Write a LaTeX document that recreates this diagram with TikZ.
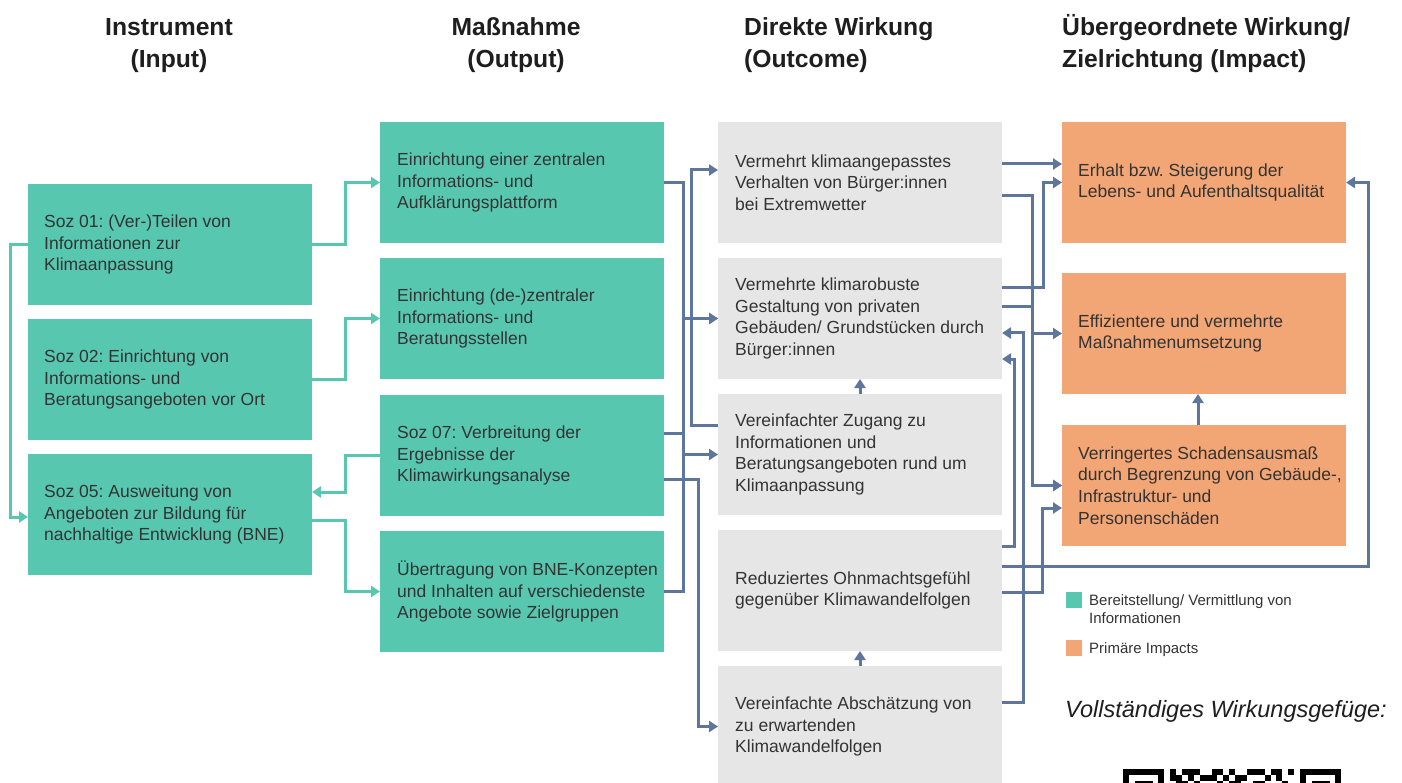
\documentclass[tikz,border=0pt]{standalone}
\usepackage{fontspec}
\setmainfont{Liberation Sans}
\usetikzlibrary{arrows.meta}
\definecolor{teal1}{RGB}{88,199,176}
\definecolor{orange1}{RGB}{242,166,117}
\definecolor{gray1}{RGB}{230,230,230}
\definecolor{blue1}{RGB}{94,118,155}
\definecolor{txt}{RGB}{51,51,51}
\definecolor{head}{RGB}{30,30,30}
\frenchspacing
\begin{document}
\frenchspacing
\begin{tikzpicture}[x=1pt,y=-1pt,
 box/.style={anchor=north west, minimum width=284pt, minimum height=121pt, inner sep=0pt, outer sep=0pt, draw=none},
 tbox/.style={box, fill=teal1}, obox/.style={box, fill=orange1}, gbox/.style={box, fill=gray1},
 btext/.style={anchor=west, align=left, inner sep=0pt, text=txt, font=\fontsize{17.5}{21.6}\selectfont\frenchspacing},
 hd/.style={anchor=base, inner sep=0pt, text=head, font=\fontsize{24.7}{30}\selectfont\bfseries},
 lgtext/.style={anchor=base west, inner sep=0pt, text=txt, font=\fontsize{15}{18}\selectfont},
 tl/.style={draw=teal1, line width=3pt, -{Triangle[length=9pt,width=11pt]}},
 bl/.style={draw=blue1, line width=3pt, -{Triangle[length=9pt,width=11pt]}},
]
\useasboundingbox (0,0) rectangle (1402,783);
\fill[white] (0,0) rectangle (1402,783);

% headers
\node[hd] (h1a) at (169,36) {Instrument};
\node[hd] (h1b) at (169,68) {(Input)};
\node[hd] (h2a) at (516,36) {Maßnahme};
\node[hd] (h2b) at (516,68) {(Output)};
\node[hd, anchor=base west] (h3a) at (744,36) {Direkte Wirkung};
\node[hd, anchor=base west] (h3b) at (744,68) {(Outcome)};
\node[hd, anchor=base west] (h4a) at (1062,36) {Übergeordnete Wirkung/};
\node[hd, anchor=base west] (h4b) at (1062,68) {Zielrichtung (Impact)};

% input
\node[tbox] (I1) at (28,184) {};
\node[tbox] (I2) at (28,319) {};
\node[tbox] (I3) at (28,454) {};
% output
\node[tbox] (O1) at (380,122) {};
\node[tbox] (O2) at (380,258) {};
\node[tbox] (O3) at (380,395) {};
\node[tbox] (O4) at (380,531) {};
% outcome
\node[gbox] (C1) at (718,122) {};
\node[gbox] (C2) at (718,258) {};
\node[gbox] (C3) at (718,394) {};
\node[gbox] (C4) at (718,530) {};
\node[gbox] (C5) at (718,666) {};
% impact
\node[obox] (P1) at (1062,122) {};
\node[obox] (P2) at (1062,273) {};
\node[obox] (P3) at (1062,425) {};

% texts
\node[btext] (I1t) at ([xshift=16pt]I1.west) {Soz 01: (Ver-)Teilen von\\Informationen zur\\Klimaanpassung};
\node[btext] (I2t) at ([xshift=16pt]I2.west) {Soz 02: Einrichtung von\\Informations- und\\Beratungsangeboten vor Ort};
\node[btext] (I3t) at ([xshift=16pt]I3.west) {Soz 05: Ausweitung von\\Angeboten zur Bildung für\\nachhaltige Entwicklung (BNE)};
\node[btext] (O1t) at ([xshift=17pt]O1.west) {Einrichtung einer zentralen\\Informations- und\\Aufklärungsplattform};
\node[btext] (O2t) at ([xshift=17pt]O2.west) {Einrichtung (de-)zentraler\\Informations- und\\Beratungsstellen};
\node[btext] (O3t) at ([xshift=17pt]O3.west) {Soz 07: Verbreitung der\\Ergebnisse der\\Klimawirkungsanalyse};
\node[btext] (O4t) at ([xshift=17pt]O4.west) {Übertragung von BNE-Konzepten\\und Inhalten auf verschiedenste\\Angebote sowie Zielgruppen};
\node[btext] (C1t) at ([xshift=17pt]C1.west) {Vermehrt klimaangepasstes\\Verhalten von Bürger:innen\\bei Extremwetter};
\node[btext] (C2t) at ([xshift=17pt]C2.west) {Vermehrte klimarobuste\\Gestaltung von privaten\\Gebäuden/ Grundstücken durch\\Bürger:innen};
\node[btext] (C3t) at ([xshift=17pt]C3.west) {Vereinfachter Zugang zu\\Informationen und\\Beratungsangeboten rund um\\Klimaanpassung};
\node[btext] (C4t) at ([xshift=17pt]C4.west) {Reduziertes Ohnmachtsgefühl\\gegenüber Klimawandelfolgen};
\node[btext] (C5t) at ([xshift=17pt]C5.west) {Vereinfachte Abschätzung von\\zu erwartenden\\Klimawandelfolgen};
\node[btext] (P1t) at ([xshift=16pt]P1.west) {Erhalt bzw. Steigerung der\\Lebens- und Aufenthaltsqualität};
\node[btext] (P2t) at ([xshift=16pt]P2.west) {Effizientere und vermehrte\\Maßnahmenumsetzung};
\node[btext] (P3t) at ([xshift=16pt]P3.west) {Verringertes Schadensausmaß\\durch Begrenzung von Gebäude-,\\Infrastruktur- und\\Personenschäden};

% teal connectors
\draw[tl] (I1.east) -- ++(33,0) |- (O1.west);
\draw[tl] (I2.east) -- ++(33,0) |- (O2.west);
\draw[tl] (O3.west) -- ++(-35,0) |- (I3.east |- 0,492);
\draw[tl] (I3.east |- 0,520) -- ++(33,0) |- (O4.west);
\draw[tl] (I1.west) -- ++(-18,0) |- (I3.west |- 0,517);

% blue connectors output -> outcome
\draw[bl] (O1.east) -- ++(19,0) |- (C2.west);
\draw[bl] (O4.east) -- ++(19,0) |- (C2.west);
\draw[bl] (O3.east |- 0,433) -- ++(19,0) |- (C3.west);
\draw[bl] (C3.west |- 0,425) -- ++(-27,0) |- (C1.west |- 0,170);
\draw[bl] (O3.east |- 0,479) -- ++(34,0) |- (C5.west);
\draw[bl] (C3.north) -- (C2.south);
\draw[bl] (C5.north) -- (C4.south);

% outcome -> impact
\draw[bl] (C1.east |- 0,164) -- (P1.west |- 0,164);
\draw[bl] (C1.east |- 0,196) -- ++(30,0) |- (P2.west);
\draw[bl] (C1.east |- 0,196) -- ++(30,0) |- (P3.west);
\draw[bl] (C2.east |- 0,307) -- ++(30,0) |- (P3.west);
\draw[bl] (C2.east |- 0,288) -- ++(41,0) |- (P1.west);
\draw[bl] (C5.east |- 0,702) -- ++(21,0) |- (C2.east |- 0,333);
\draw[bl] (C4.east |- 0,546) -- ++(12,0) |- (C2.east |- 0,359);
\draw[bl] (C4.east |- 0,566) -- ++(366,0) |- (P1.east);
\draw[bl] (C4.east |- 0,592) -- ++(40,0) |- (P3.west |- 0,508);
\draw[bl] (P3.north -| 1198,0) -- (P2.south -| 1198,0);

% legend
\node[fill=teal1, minimum size=16pt, inner sep=0pt, anchor=north west] (lg1) at (1066,592) {};
\node[lgtext] (lg1a) at (1089,605) {Bereitstellung/ Vermittlung von};
\node[lgtext] (lg1b) at (1089,623) {Informationen};
\node[fill=orange1, minimum size=16pt, inner sep=0pt, anchor=north west] (lg2) at (1066,640) {};
\node[lgtext] (lg2a) at (1089,653) {Primäre Impacts};
\node[anchor=base west, inner sep=0pt, text=head, font=\fontsize{23.5}{28}\selectfont\itshape] (vw) at (1065,717) {Vollständiges Wirkungsgefüge:};

% QR code (top edge visible)
\foreach \c in {0,...,6,30,31,32,33,34,35,36,8,10,11,12,15,16,18,21,22,23,25,26,28}
  \fill[black] (1123+\c*5.9,769) rectangle ++(5.95,5.95);
\foreach \c in {0,6,30,36,8,9,11,13,14,15,17,19,20,24,26}
  \fill[black] (1123+\c*5.9,774.9) rectangle ++(5.95,5.95);
\foreach \c in {0,2,3,4,6,30,32,33,34,36,9,10,12,16,18,19,22,23,27}
  \fill[black] (1123+\c*5.9,780.8) rectangle ++(5.95,5.95);
\end{tikzpicture}
\end{document}
